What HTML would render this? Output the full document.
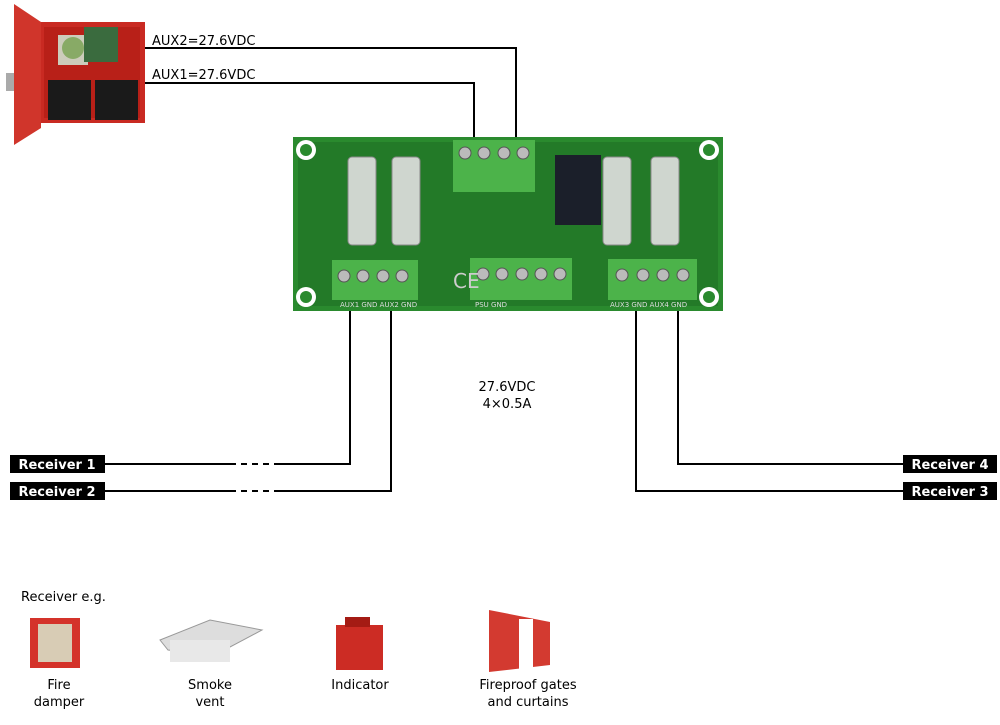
<!DOCTYPE html>
<html><head><meta charset="utf-8"><style>
body{margin:0;background:#fff;}
svg{display:block;font-family:"DejaVu Sans","Liberation Sans",sans-serif;}
</style></head><body>
<svg width="1000" height="725" viewBox="0 0 1000 725" xmlns="http://www.w3.org/2000/svg">
<!-- wires top -->
<g stroke="#000" stroke-width="2" fill="none">
<polyline points="145,48 516,48 516,140"/>
<polyline points="145,83 474,83 474,140"/>
<polyline points="350,310 350,464 278,464"/>
<line x1="230" y1="464" x2="105" y2="464"/>
<polyline points="391,310 391,491 278,491"/>
<line x1="230" y1="491" x2="105" y2="491"/>
<polyline points="678,310 678,464 785,464"/>
<line x1="740" y1="464" x2="903" y2="464"/>
<polyline points="636,310 636,491 785,491"/>
<line x1="740" y1="491" x2="903" y2="491"/>
</g>
<g stroke="#000" stroke-width="2" stroke-dasharray="6,5">
<line x1="230" y1="464" x2="278" y2="464"/><line x1="230" y1="491" x2="278" y2="491"/>
<line x1="740" y1="464" x2="785" y2="464"/><line x1="740" y1="491" x2="785" y2="491"/>
</g>
<text x="152" y="45" font-size="13">AUX2=27.6VDC</text>
<text x="152" y="79" font-size="13">AUX1=27.6VDC</text>
<text x="507" y="391" font-size="13" text-anchor="middle">27.6VDC</text>
<text x="507" y="408" font-size="13" text-anchor="middle">4×0.5A</text>
<!-- receivers -->
<g font-size="13" font-weight="bold" fill="#fff">
<rect x="10" y="455" width="95" height="18" fill="#000"/><text x="57" y="469" text-anchor="middle">Receiver 1</text>
<rect x="10" y="482" width="95" height="18" fill="#000"/><text x="57" y="496" text-anchor="middle">Receiver 2</text>
<rect x="903" y="455" width="94" height="18" fill="#000"/><text x="950" y="469" text-anchor="middle">Receiver 4</text>
<rect x="903" y="482" width="94" height="18" fill="#000"/><text x="950" y="496" text-anchor="middle">Receiver 3</text>
</g>
<!-- PSU cabinet -->
<rect x="39" y="22" width="106" height="101" fill="#c92a22"/>
<rect x="44" y="27" width="96" height="91" fill="#b82018"/>
<polygon points="14,4 41,22 41,128 14,145" fill="#d0352b"/>
<rect x="58" y="35" width="30" height="30" fill="#ccb" /><circle cx="73" cy="48" r="11" fill="#8a6"/>
<rect x="84" y="27" width="34" height="35" fill="#3a6b3e"/>
<rect x="48" y="80" width="43" height="40" fill="#1a1a1a"/>
<rect x="95" y="80" width="43" height="40" fill="#1a1a1a"/>
<rect x="6" y="73" width="8" height="18" fill="#aaa"/>
<!-- PCB -->
<rect x="293" y="137" width="430" height="174" fill="#2a8a2e"/>
<rect x="298" y="142" width="420" height="164" fill="#237a28"/>
<g fill="#fff"><circle cx="306" cy="150" r="10"/><circle cx="709" cy="150" r="10"/><circle cx="306" cy="297" r="10"/><circle cx="709" cy="297" r="10"/></g>
<g fill="#2a8a2e"><circle cx="306" cy="150" r="6"/><circle cx="709" cy="150" r="6"/><circle cx="306" cy="297" r="6"/><circle cx="709" cy="297" r="6"/></g>
<g fill="#cfd6cf" stroke="#888"><rect x="348" y="157" width="28" height="88" rx="4"/><rect x="392" y="157" width="28" height="88" rx="4"/><rect x="603" y="157" width="28" height="88" rx="4"/><rect x="651" y="157" width="28" height="88" rx="4"/></g>
<rect x="555" y="155" width="46" height="70" fill="#1b1f2a"/>
<rect x="453" y="140" width="82" height="52" fill="#4cb34a"/>
<rect x="332" y="260" width="86" height="40" fill="#4cb34a"/>
<rect x="470" y="258" width="102" height="42" fill="#4cb34a"/>
<rect x="608" y="259" width="89" height="41" fill="#4cb34a"/>
<g fill="#bbb" stroke="#555">
<circle cx="465" cy="153" r="6"/><circle cx="484" cy="153" r="6"/><circle cx="504" cy="153" r="6"/><circle cx="523" cy="153" r="6"/>
<circle cx="344" cy="276" r="6"/><circle cx="363" cy="276" r="6"/><circle cx="383" cy="276" r="6"/><circle cx="402" cy="276" r="6"/>
<circle cx="483" cy="274" r="6"/><circle cx="502" cy="274" r="6"/><circle cx="522" cy="274" r="6"/><circle cx="541" cy="274" r="6"/><circle cx="560" cy="274" r="6"/>
<circle cx="622" cy="275" r="6"/><circle cx="643" cy="275" r="6"/><circle cx="663" cy="275" r="6"/><circle cx="683" cy="275" r="6"/>
</g>
<text x="453" y="288" font-size="20" fill="#ccc">CE</text>
<g font-size="7" fill="#ddd"><text x="340" y="307">AUX1 GND AUX2 GND</text><text x="475" y="307">PSU GND</text><text x="610" y="307">AUX3 GND AUX4 GND</text></g>
<!-- bottom -->
<text x="21" y="601" font-size="13">Receiver e.g.</text>
<rect x="30" y="618" width="50" height="50" fill="#d4322a"/><rect x="38" y="624" width="34" height="38" fill="#d8ccb5"/>
<polygon points="160,640 210,620 262,630 215,655 168,650" fill="#ddd" stroke="#999"/>
<rect x="170" y="640" width="60" height="22" fill="#e8e8e8"/>
<rect x="336" y="625" width="47" height="45" fill="#cc2c24"/><rect x="345" y="617" width="25" height="10" fill="#a41b14"/>
<polygon points="489,610 550,622 550,665 489,672" fill="#d33a30"/><rect x="519" y="619" width="14" height="50" fill="#fff"/>
<g font-size="13" text-anchor="middle">
<text x="59" y="689">Fire</text><text x="59" y="706">damper</text>
<text x="210" y="689">Smoke</text><text x="210" y="706">vent</text>
<text x="360" y="689">Indicator</text>
<text x="528" y="689">Fireproof gates</text><text x="528" y="706">and curtains</text>
</g>
</svg>
</body></html>
